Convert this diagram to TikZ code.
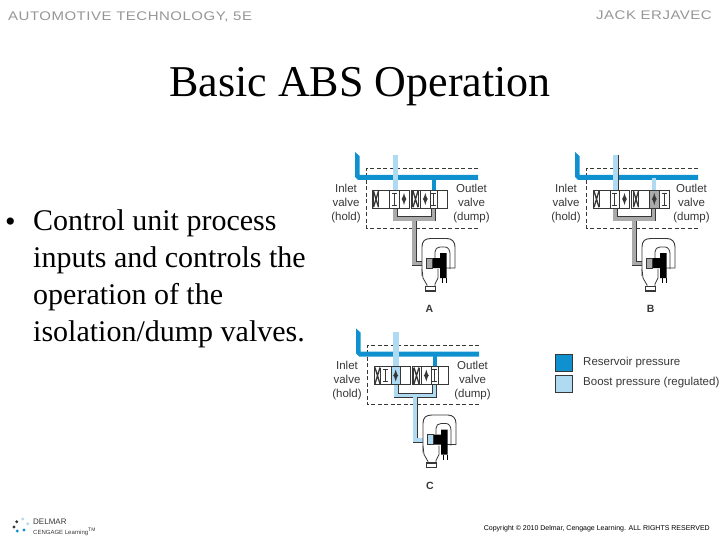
\documentclass[tikz,border=0pt]{standalone}
\usepackage{fontspec}
\usepackage{xcolor}
\setmainfont{Liberation Serif}
\newfontfamily\labelfont{Liberation Sans}
\newfontfamily\headfont[LetterSpace=4,FakeStretch=1.2]{Liberation Sans}
\definecolor{reservoirblue}{RGB}{15,145,208}
\definecolor{boostblue}{RGB}{176,218,242}
\definecolor{linegrey}{RGB}{170,170,170}
\definecolor{headgrey}{RGB}{150,150,150}
\definecolor{darkline}{RGB}{55,55,55}

\tikzset{
    partlabel/.style={font=\labelfont\fontsize{11.5}{14}\selectfont, text=darkline, inner sep=0pt},
    headlabel/.style={font=\headfont\fontsize{12.5}{14}\selectfont, text=headgrey, inner sep=0pt},
    panelletter/.style={font=\labelfont\bfseries\fontsize{10.5}{12}\selectfont, text=darkline, inner sep=0pt},
    valvebox/.style={draw=darkline, line width=0.9pt, fill=white},
    pipeedge/.style={draw=darkline, line width=5pt},
    pipecore/.style={draw=#1, line width=3.5pt},
    dashbox/.style={draw=darkline, line width=0.7pt, dash pattern=on 4pt off 2.5pt},
}

% the parts that every panel has
\newcommand{\panelframe}{
    \draw[dashbox] (148,23.5) -- (36,23.5) -- (36,83) -- (148,83);
    \fill[reservoirblue] (25,7) -- (29.5,11) -- (29.5,30) -- (148,30) -- (148,35) -- (28,35) -- (25,32) -- cycle;
    \node[partlabel, align=center] at (16,59) {Inlet\\valve\\(hold)};
    \node[partlabel, align=center] at (141.5,59) {Outlet\\valve\\(dump)};
}
\newcommand{\pipework}[1]{
    \draw[pipeedge] (65,63) -- (65,74) -- (103.5,74) -- (103.5,63) (84,74) -- (84,118.5) -- (97,118.5);
    \draw[pipecore=#1] (65,63) -- (65,74) -- (103.5,74) -- (103.5,63) (84,74) -- (84,118.5) -- (97,118.5);
}
\newcommand{\valvex}[1]{
    \draw[darkline, line width=1.3pt] (#1-2.5,46) -- (#1+2.5,62.3) (#1+2.5,46) -- (#1-2.5,62.3);
    \draw[darkline, line width=0.7pt] (#1-2.8,46) -- (#1-2.8,62.3) (#1+2.8,46) -- (#1+2.8,62.3);
}
\newcommand{\valvei}[1]{
    \draw[darkline, line width=0.7pt] (#1-2.5,48) -- (#1+2.5,48) (#1,48) -- (#1,60) (#1-2.5,60) -- (#1+2.5,60);
}
\newcommand{\valvearrow}[1]{
    \draw[darkline, line width=1.2pt, <->, >=latex] (#1,48) -- (#1,60);
}
\newcommand{\caliper}[1]{
    \draw[darkline, line width=0.9pt, fill=white] (92,131) -- (92,102) .. controls (92,96) and (95,93.5) .. (101,93.5) -- (117,93.5) .. controls (122,93.5) and (125,97) .. (125,102) -- (125,123) -- (112,123);
    \draw[darkline, line width=0.8pt] (105,113) -- (105,107) .. controls (105,104) and (107,102) .. (110,102) -- (115,102) .. controls (118,102) and (120,105) .. (120,109) -- (120,124);
    \fill[black] (110,108) -- (116.5,108) -- (116.5,133) -- (110,133) -- (110,123) -- (102,123) -- (102,113) -- (110,113) -- cycle;
    \fill[#1] (96,113) rectangle (102.5,123);
    \draw[darkline, line width=0.8pt] (96,113) rectangle (102.5,123);
    \draw[black, line width=1pt] (112,133) -- (112,138) (116.5,133) -- (116.5,138);
    \draw[darkline, line width=0.8pt, fill=white] (92,124) -- (93,133) -- (97,140) -- (97,142) -- (105,142) -- (105,139) -- (108,133) -- (108,124);
    \draw[darkline, line width=1.3pt, fill=white] (95.5,141.5) rectangle (105.5,146);
}

\begin{document}
\begin{tikzpicture}[x=1pt, y=-1pt]
    \useasboundingbox (0,0) rectangle (720,540);

    % header and footer
    \node[headlabel, anchor=west] (book) at (8,17) {AUTOMOTIVE TECHNOLOGY, 5E};
    \node[headlabel, anchor=east] (author) at (712,15) {JACK ERJAVEC};
    \foreach \dotx/\doty/\dotcolor in {22.7/519/boostblue, 16.7/521.7/darkline, 14/527/darkline, 17.3/531/reservoirblue, 24/530/reservoirblue, 27.7/523.7/boostblue}
        \fill[\dotcolor] (\dotx,\doty) circle (1.6pt);
    \node[anchor=west, inner sep=0pt, text=darkline, font=\labelfont\fontsize{8}{9}\selectfont] (delmar) at (33,522) {DELMAR};
    \node[anchor=west, inner sep=0pt, text=darkline, font=\labelfont\fontsize{6}{8}\selectfont] (cengage) at (33,532) {CENGAGE Learning\textsuperscript{\tiny TM}};
    \node[anchor=east, inner sep=0pt, font=\labelfont\fontsize{7}{8}\selectfont] (copyright) at (710,529) {Copyright © 2010 Delmar, Cengage Learning. ALL RIGHTS RESERVED};

    % title and text
    \node[inner sep=0pt, font=\fontsize{44}{50}\selectfont] (title) at (360,87) {Basic ABS Operation};
    \node[anchor=west, inner sep=0pt, font=\fontsize{30}{37}\selectfont] (bullet) at (5,225) {•};
    \node[anchor=north west, inner sep=0pt, align=left, font=\fontsize{30}{37}\selectfont] (body) at (33,209) {Control unit process\\inputs and controls the\\operation of the\\isolation/dump valves.};

    % panel A
    \begin{scope}[shift={(330,145)}]
        \panelframe
        \pipework{linegrey}
        \fill[boostblue] (63,10) rectangle (67.5,45);
        \fill[reservoirblue] (101.5,33) rectangle (106,45);
        \draw[valvebox] (42.7,45) rectangle (79.3,63.3);
        \draw[valvebox] (59.3,45) rectangle (69.3,63.3);
        \draw[valvebox] (81.7,45) rectangle (117.3,63.3);
        \draw[valvebox] (90.7,45) rectangle (100,63.3);
        \draw[valvebox] (100,45) rectangle (107.3,63.3);
        \valvex{46} \valvei{64.5} \valvearrow{74}
        \valvex{85.5} \valvearrow{95.3} \valvei{103.7}
        \caliper{linegrey}
        \node[panelletter] (panela) at (99.5,164) {A};
    \end{scope}

    % panel B
    \begin{scope}[shift={(550,145)}]
        \panelframe
        \pipework{linegrey}
        \fill[boostblue] (63,10) rectangle (67.5,45);
        \draw[darkline, line width=0.9pt] (68,10) -- (68,45);
        \fill[boostblue] (101.5,33) rectangle (106,45);
        \draw[valvebox] (43.5,45) rectangle (79.3,63.3);
        \draw[valvebox] (60,45) rectangle (69.3,63.3);
        \draw[valvebox] (81.7,45) rectangle (119.5,63.3);
        \draw[valvebox, fill=linegrey] (99.5,45) rectangle (109.3,63.3);
        \valvex{46.5} \valvei{64.5} \valvearrow{74.5}
        \valvex{86} \valvearrow{104.3} \valvei{114}
        \caliper{linegrey}
        \node[panelletter] (panelb) at (100.7,164) {B};
    \end{scope}

    % panel C
    \begin{scope}[shift={(331,321.5)}]
        \panelframe
        \fill[boostblue] (61.5,10) rectangle (67.5,45);
        \pipework{boostblue}
        \fill[reservoirblue] (101.5,33) rectangle (106,45);
        \draw[valvebox] (43,45) rectangle (79.3,63.3);
        \draw[valvebox, fill=boostblue] (60,45) rectangle (69.5,63.3);
        \draw[valvebox] (81.7,45) rectangle (117.3,63.3);
        \draw[valvebox] (90.7,45) rectangle (100,63.3);
        \draw[valvebox] (100,45) rectangle (107.3,63.3);
        \valvex{46.5} \valvei{54} \valvearrow{64.7}
        \valvex{85.5} \valvearrow{95.3} \valvei{103.7}
        \caliper{boostblue}
        \node[panelletter] (panelc) at (99,164) {C};
    \end{scope}

    % legend
    \node[draw=darkline, line width=0.7pt, fill=reservoirblue, minimum size=17pt, inner sep=0pt, anchor=north west] (keyreservoir) at (555,353.5) {};
    \node[draw=darkline, line width=0.7pt, fill=boostblue, minimum size=17pt, inner sep=0pt, anchor=north west] (keyboost) at (555,374.5) {};
    \node[partlabel, anchor=west] (textreservoir) at (583,363) {Reservoir pressure};
    \node[partlabel, anchor=west] (textboost) at (583,383) {Boost pressure (regulated)};
\end{tikzpicture}
\end{document}
